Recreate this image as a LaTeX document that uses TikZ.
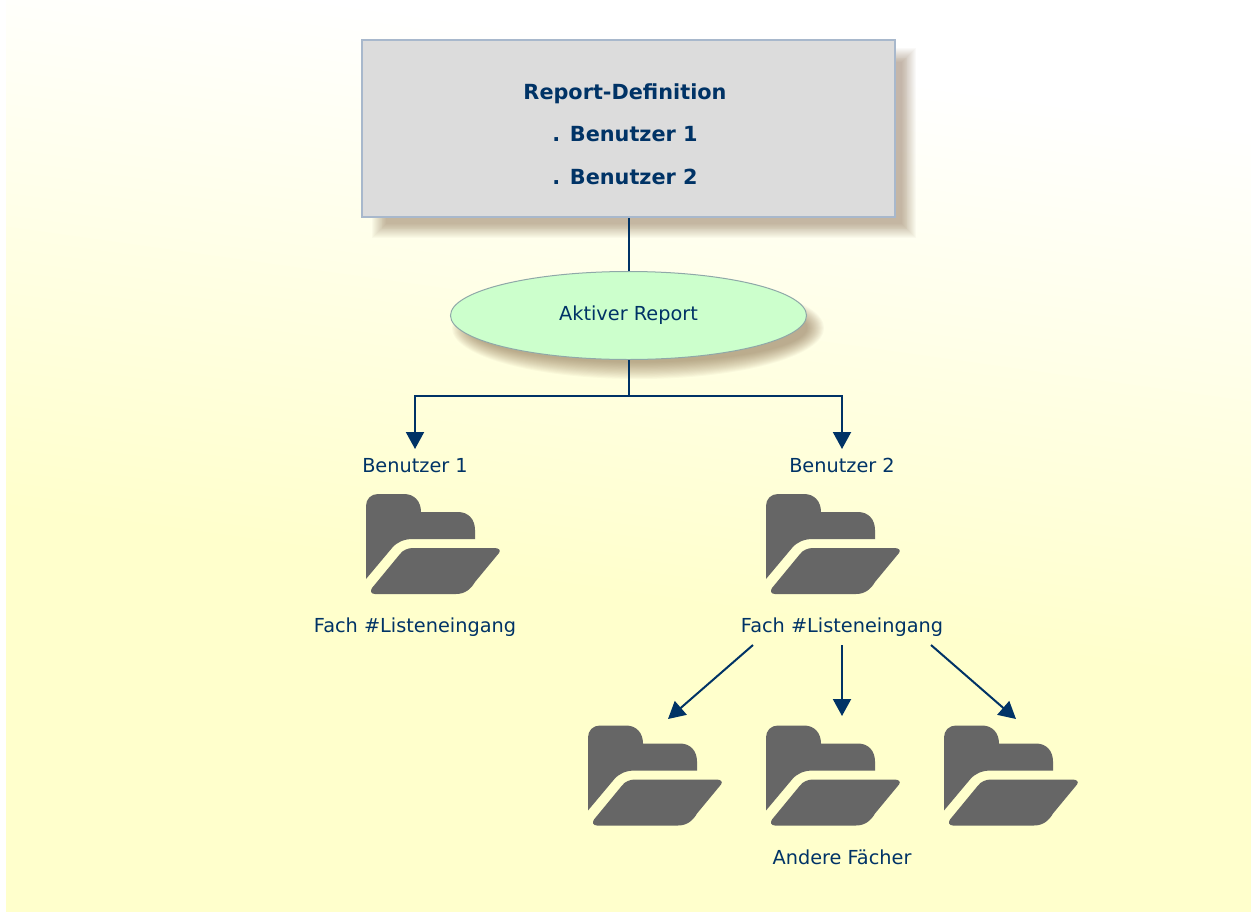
\documentclass[tikz,border=0pt]{standalone}
\usepackage{fontspec}
\setmainfont{DejaVu Sans}
\usetikzlibrary{arrows.meta,shapes.geometric}
\definecolor{navy}{HTML}{003366}
\definecolor{folderc}{HTML}{666666}
\definecolor{boxc}{HTML}{DCDCDC}
\definecolor{boxline}{HTML}{A8B8CC}
\definecolor{ellc}{HTML}{CCFFCC}
\definecolor{ellline}{HTML}{8FA8A8}
\definecolor{shad}{HTML}{7A5A3A}
\definecolor{paper}{HTML}{FFFFCC}
\newcommand{\foldershape}[2]{%
 \begin{scope}[shift={(#1,#2)}]
 \fill[folderc] (0,85) -- (0,12) .. controls (0,5) and (5,0) .. (12,0) -- (38,0)
   .. controls (48,0) and (55,7) .. (55,18) -- (92,18)
   .. controls (102,18) and (109,25) .. (109,36) -- (109,45) -- (47,45)
   .. controls (38,45) and (31,48) .. (26,54) -- cycle;
 \fill[folderc] (47,54) -- (128,54) .. controls (133,54) and (135,56) .. (133,59)
   -- (109,88) .. controls (105,95) and (99,100) .. (90,100) -- (9,100)
   .. controls (5,100) and (4,97) .. (6,94) -- (34,60) .. controls (37,56) and (42,54) .. (47,54) -- cycle;
 \end{scope}}
\tikzset{
 lbl/.style={font=\fontsize{19.3}{22}\selectfont, text=navy, inner sep=0pt, anchor=center},
 ttl/.style={font=\fontsize{20.8}{24}\selectfont\bfseries, text=navy, inner sep=0pt, anchor=center},
 conn/.style={draw=navy, line width=2pt},
 arr/.style={conn, -{Triangle[length=17pt,width=18pt]}},
}
\begin{document}
\begin{tikzpicture}[x=1pt,y=-1pt]
\useasboundingbox (0,0) rectangle (1251,911);
\fill[white] (0,0) rectangle (1251,911);
% page background: tilted white-to-yellow gradient
\begin{scope}
\clip (6,0) rectangle (1251,911);
\begin{scope}[rotate around={-8:(625,455)}]
\foreach \k in {0,...,50}{
 \pgfmathsetmacro{\p}{\k*2}
 \pgfmathsetmacro{\yy}{40+\k*11}
 \fill[paper!\p!white] (-400,\yy) rectangle (1650,1300);
}
\end{scope}
\end{scope}
% shadows
\foreach \i in {0,...,15}{
 \fill[shad, opacity=0.033] ({372+\i*0.95},{48+\i*0.95}) rectangle ({916-\i*0.95},{238-\i*0.95});
 \fill[shad, opacity=0.04] (638,328) ellipse ({186-\i*1.1} and {51-\i*1.1});
}
% box
\node[draw=boxline, fill=boxc, line width=1.6pt, minimum width=533pt, minimum height=177pt, inner sep=0pt, rectangle] (repdef) at (628.5,128.5) {};
\node[ttl] (t1) at (625,93.5) {Report-Definition};
\node[ttl] (t2) at (625,134.5) {. Benutzer 1};
\node[ttl] (t3) at (625,177) {. Benutzer 2};
% ellipse
\draw[conn] (repdef.south) -- (628.5,272);
\node[ellipse, draw=ellline, fill=ellc, line width=1pt, minimum width=356pt, minimum height=88pt, inner sep=0pt] (active) at (628.5,315.5) {};
\node[lbl] (activet) at (628.5,315) {Aktiver Report};
% tree
\node[lbl] (b1) at (415,465.5) {Benutzer 1};
\node[lbl] (b2) at (842,465.5) {Benutzer 2};
\coordinate (a1) at (415,449);
\coordinate (a2) at (842,449);
\coordinate (bus) at (628.5,396);
\draw[conn] (active.south) -- (bus);
\draw[arr] (bus) -| (a1);
\draw[arr] (bus) -| (a2);
% folders
\foldershape{366}{494}
\foldershape{766}{494}
\foldershape{588}{725.5}
\foldershape{766}{725.5}
\foldershape{944}{725.5}
\node[lbl] (f1) at (415,627) {Fach \#Listeneingang};
\node[lbl] (f2) at (842,627) {Fach \#Listeneingang};
\node[lbl] (other) at (842,857) {Andere Fächer};
\coordinate (s1) at (753,645);
\coordinate (s2) at (842,645);
\coordinate (s3) at (931,645);
\coordinate (e1) at (668,719);
\coordinate (e2) at (842,716);
\coordinate (e3) at (1016,719);
\draw[arr] (s1) -- (e1);
\draw[arr] (s2) -- (e2);
\draw[arr] (s3) -- (e3);
\end{tikzpicture}
\end{document}
